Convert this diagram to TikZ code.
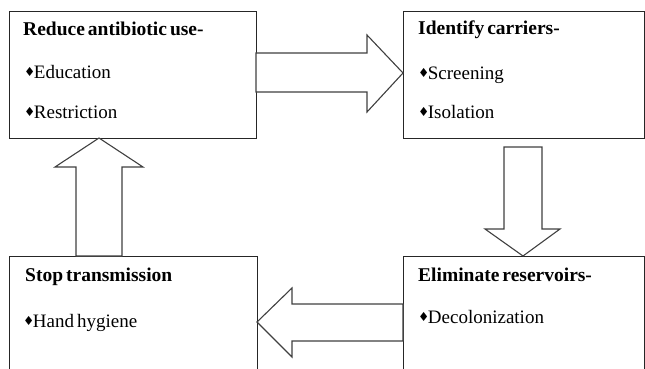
\documentclass[tikz,border=0pt]{standalone}
\usepackage{fontspec}
\setmainfont{Liberation Serif}
\newfontfamily\symfont{DejaVu Sans}
\newcommand{\dbul}{{\symfont\fontsize{12.5}{12.5}\selectfont\raisebox{1.2pt}{♦}}\kern-1.5pt\relax}
\newcommand{\ttlfont}{\fontsize{19.5}{22}\selectfont\bfseries\spaceskip=3pt\relax}
\newcommand{\itmfont}{\fontsize{19}{22}\selectfont\spaceskip=3pt\relax}
\begin{document}
\begin{tikzpicture}[x=1pt,y=-1pt,
  box/.style={draw=black!85, line width=1pt, anchor=north west, inner sep=0pt},
  blockarrow/.style={draw=black!75, line width=1.1pt, fill=white, line join=miter},
  ttl/.style={anchor=base west, inner sep=0pt, font=\ttlfont},
  itm/.style={anchor=base west, inner sep=0pt, font=\itmfont}]
\useasboundingbox (0,0) rectangle (645,369);
% boxes
\node[box, minimum width=247pt, minimum height=127pt] (b1) at (9,11) {};
\node[box, minimum width=241pt, minimum height=127pt] (b2) at (403,11) {};
\node[box, minimum width=248pt, minimum height=130pt] (b3) at (9,256) {};
\node[box, minimum width=241pt, minimum height=130pt] (b4) at (403,256) {};
% texts
\node[ttl] (t1) at (23,36) {Reduce antibiotic use-};
\node[itm] (t1a) at (24,78) {\dbul Education};
\node[itm] (t1b) at (24,118) {\dbul Restriction};
\node[ttl] (t2) at (418,35) {Identify carriers-};
\node[itm] (t2a) at (418,79) {\dbul Screening};
\node[itm] (t2b) at (418,118) {\dbul Isolation};
\node[ttl] (t3) at (25,281) {Stop transmission};
\node[itm] (t3a) at (23,327) {\dbul Hand hygiene};
\node[ttl] (t4) at (418,281) {Eliminate reservoirs-};
\node[itm] (t4a) at (418,323) {\dbul Decolonization};
% block arrows
\draw[blockarrow] (256,53) -- (367,53) -- (367,35) -- (403,73) -- (367,112) -- (367,92) -- (256,92) -- cycle;
\draw[blockarrow] (504,147) -- (542,147) -- (542,229) -- (560,229) -- (523,256) -- (485,229) -- (504,229) -- cycle;
\draw[blockarrow] (403,304) -- (292,304) -- (292,288) -- (257,322) -- (292,357) -- (292,341) -- (403,341) -- cycle;
\draw[blockarrow] (76,256) -- (76,167) -- (55,167) -- (99,138) -- (143,167) -- (122,167) -- (122,256) -- cycle;
\end{tikzpicture}
\end{document}
